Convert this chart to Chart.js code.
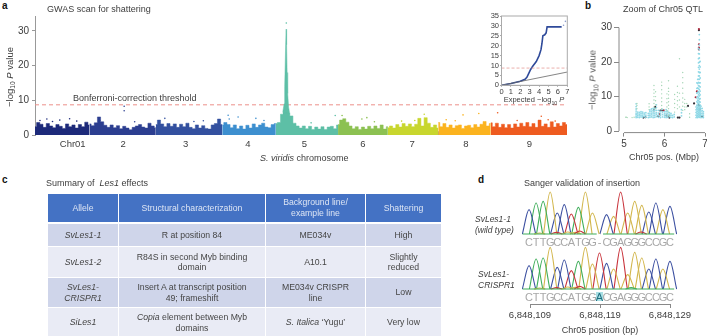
<!DOCTYPE html>
<html>
<head>
<meta charset="utf-8">
<title>Les1 figure</title>
<script src="https://cdn.jsdelivr.net/npm/chart.js@4"></script>
<style>
    html, body { margin: 0; padding: 0; background: #fff; }
    body { position: relative; width: 707px; height: 336px; overflow: hidden; font-family: "Liberation Sans", Arial, sans-serif; color: #3d3d3d; }
    canvas { position: absolute; }
    .t { position: absolute; white-space: nowrap; font-size: 9px; line-height: 11px; }
    .panel { font-weight: bold; font-size: 10px; color: #111; }
    .rot { transform: translate(-50%, -50%) rotate(-90deg); }
    .mid { transform: translateX(-50%); }
    sub { font-size: 70%; line-height: 0; }
    #les1Table { position: absolute; left: 47px; top: 193px; width: 394px; table-layout: fixed; border-collapse: collapse; font-size: 8.7px; line-height: 10.5px; text-align: center; color: #454545; }
    #les1Table td, #les1Table th { border: 1px solid #fff; padding: 0 6px; font-weight: normal; }
    #les1Table th { background: #4472c4; color: #dde5f4; border-bottom-width: 2px; }
    #les1Table tr.odd td { background: #cfd5ea; }
    #les1Table tr.even td { background: #e9ebf5; }
    #insertMark { position: absolute; left: 596px; top: 292px; width: 7px; height: 9px; background: #a9dfe4; }
</style>
</head>
<body>
<div class="t panel" style="left:2px;top:0">a</div>
<div class="t panel" style="left:585px;top:0">b</div>
<div class="t panel" style="left:2px;top:174px">c</div>
<div class="t panel" style="left:478px;top:174px">d</div>

<canvas id="manhattanChart" width="572" height="170" style="left:0;top:0"></canvas>
<div class="t" style="left:47px;top:4px">GWAS scan for shattering</div>
<div class="t rot" style="left:9px;top:77px;font-size:9.5px">&minus;log<sub>10</sub> <i>P</i> value</div>
<div class="t" style="left:73px;top:93px">Bonferroni-correction threshold</div>
<div class="t" style="left:260px;top:153px"><i>S. viridis</i> chromosome</div>

<canvas id="qqChart" width="92" height="97" style="left:485px;top:8px"></canvas>
<div class="t mid" style="left:534px;top:94px;font-size:7.5px">Expected &minus;log<sub>10</sub> <i>P</i></div>

<canvas id="zoomChart" width="125" height="170" style="left:590px;top:0"></canvas>
<div class="t" style="left:623px;top:4px">Zoom of Chr05 QTL</div>
<div class="t rot" style="left:592px;top:80px;font-size:9.5px;color:#555">&minus;log<sub>10</sub> <i>P</i> value</div>
<div class="t mid" style="left:664px;top:152px">Chr05 pos. (Mbp)</div>

<div class="t" style="left:46px;top:178px">Summary of &nbsp;<i>Les1</i> effects</div>
<table id="les1Table"></table>

<div class="t" style="left:524px;top:178px">Sanger validation of insertion</div>
<div class="t" style="left:475px;top:214px;font-size:8.5px"><i>SvLes1-1<br>(wild type)</i></div>
<div class="t" style="left:478px;top:269px;font-size:8.5px"><i>SvLes1-<br>CRISPR1</i></div>
<div id="insertMark"></div>
<canvas id="traceTop" width="155" height="60" style="left:522px;top:190px"></canvas>
<canvas id="traceBottom" width="155" height="60" style="left:522px;top:245px"></canvas>
<canvas id="positionAxis" width="200" height="30" style="left:500px;top:303px"></canvas>
<div class="t mid" style="left:600px;top:325px">Chr05 position (bp)</div>

<script>
// Panel a: chromosomes, Mb boundaries and the envelope of -log10 P
const chrNames = ['Chr01', '2', '3', '4', '5', '6', '7', '8', '9'];
const chrEdges = [0, 40.5, 89.7, 139, 178.8, 225, 262, 299.4, 338.4, 395];
const chrColors = ['#1d2a7a', '#2c3e90', '#33509f', '#3d8fcf', '#5dbfa6', '#8cc152', '#c8d62e', '#fbb31f', '#ee5b20'];
const chrLabelPos = [28, 65.5, 111.8, 158, 200, 243.5, 280, 320, 367];
const chrTickMarks = [50, 100, 150, 200, 250, 300, 350];
const chr1Top = [2.4, 3.6, 3.1, 2.2, 3.3, 2.6, 2.1, 3.0, 2.5, 1.9, 3.2, 2.4, 2.9, 2.0, 3.0, 2.4, 3.7, 2.9];
const chr2Top = [3.2, 2.7, 3.5, 5.2, 3.8, 2.8, 2.2, 2.9, 2.1, 2.7, 1.8, 2.5, 2.0, 1.5, 2.2, 2.6, 3.0, 2.3, 2.0, 3.4, 2.6, 2.1];
const chr3Top = [3.0, 4.3, 3.2, 2.4, 3.3, 2.5, 3.2, 2.2, 3.1, 2.4, 3.4, 2.2, 1.8, 2.9, 2.0, 2.7, 1.9, 1.7, 2.9, 3.3, 4.6, 3.0];
const chr4Top = [2.9, 3.6, 3.0, 2.1, 2.9, 1.8, 2.6, 1.7, 2.8, 2.0, 3.2, 2.2, 2.9, 3.4, 2.3, 2.1, 3.0, 3.3];
const chr5Top = [3.3, 3.6, 6.0, 6.3, 6.4, 5.5, 3.4, 2.6, 2.0, 2.6, 1.8, 2.5, 1.6, 2.3, 1.7, 2.4, 1.6, 2.3, 2.5, 1.8, 2.9];
const chr6Top = [3.0, 4.3, 4.7, 3.7, 2.6, 1.8, 2.4, 1.6, 2.3, 1.7, 2.5, 1.8, 2.6, 1.9, 2.9, 1.7, 2.4];
const chr7Top = [2.1, 2.6, 2.0, 3.0, 2.3, 3.3, 2.5, 3.2, 2.4, 3.1, 4.8, 2.6, 5.0, 3.4, 2.2, 2.9, 2.0];
const chr8Top = [3.6, 2.4, 3.3, 2.2, 2.9, 2.0, 2.7, 2.9, 1.9, 2.6, 2.8, 2.1, 3.0, 2.3, 3.1, 3.9, 2.6, 3.3];
const chr9Top = [3.5, 2.4, 3.4, 2.2, 3.1, 2.1, 3.0, 2.0, 3.2, 2.3, 3.4, 2.5, 3.6, 2.4, 3.3, 2.2, 4.3, 2.5, 3.2, 2.2, 3.8, 2.3, 3.3, 2.6, 3.6, 3.0];
const chrTops = [chr1Top, chr2Top, chr3Top, chr4Top, chr5Top, chr6Top, chr7Top, chr8Top, chr9Top];
const spikeX = [183.9, 185.0, 185.4, 186.1, 186.5, 186.8, 187.2, 187.6, 188.3, 189.0];
const spikeY = [6.5, 9, 14, 26, 30.5, 26, 18, 12, 8, 6.5];
const chrOutliers = [
    [[3.7, 4.2], [8.8, 4.6], [18.4, 4.3], [25.7, 4.7], [13, 3.9], [31, 4.0]],
    [[66.2, 7], [66.2, 8.3], [48, 4.2], [74, 3.8]],
    [[96.4, 4.8], [118, 3.9], [125, 4.1]],
    [[143.4, 5.7], [144.2, 4.6], [150.8, 5.2], [164, 4.8], [170, 4.2]],
    [[186.6, 32.3], [222.9, 5.6], [205, 3.5]],
    [[228, 5.6], [246.4, 5], [242.7, 4.6], [252, 3.8]],
    [[289, 6], [272.2, 4], [282, 4.2]],
    [[317.8, 5.8], [329.5, 6.2], [305.3, 4.4], [312, 4.1]],
    [[343.5, 6.4], [375.9, 5.4], [381, 4.4], [386.2, 4], [358, 4.2]]
];
const bonferroni = 8.7;

// Inset: QQ curve
const qqExpected = [0, 1, 2, 2.5, 2.7, 2.9, 3.1, 3.3, 3.7, 4.0, 4.2, 4.3, 4.4, 4.6, 4.75, 4.85, 5.5, 6.4];
const qqObserved = [0, 0.9, 2, 3, 4, 6, 8, 9.5, 12, 15, 18, 21, 25, 25.5, 26.5, 29.5, 29.5, 29.5];
const qqTail = [[6.6, 30.3], [6.8, 32.3]];
const qqDiagonal = [[0, 0], [7, 6.7]];

// Panel b: points by column, [position, [values]]
const zoomCyan = [
    [5.3, [3.9, 4.3, 4.8, 5.2, 5.8, 6.4, 7.1, 7.9]], [5.34, [4, 4.5, 5, 5.5]], [5.38, [3.9, 4.4, 4.9, 5.4]], [5.42, [4.1, 4.6, 5.1, 5.6]],
    [5.46, [4, 4.4, 5, 5.5]], [5.5, [4.2, 4.7, 5.2]], [5.54, [4, 4.6, 5.3]], [5.6, [3.9, 4.5, 5.1]], [5.64, [4, 4.5, 5, 5.6, 6.1]],
    [5.68, [4.1, 4.7, 5.2, 5.8, 6.4]], [5.72, [3.9, 4.4, 5, 5.5, 6, 6.6]], [5.76, [4, 4.6, 5.2, 5.9, 6.5]], [5.8, [4.2, 4.8, 5.3, 6, 6.8, 7.6]],
    [5.85, [4, 4.6, 5.2, 6]], [5.9, [3.9, 4.5, 5.1, 5.7]], [5.95, [4.1, 4.8, 5.5, 6.3]], [6, [4, 4.5, 5, 5.6]], [6.04, [3.9, 4.4, 5, 5.6, 6.2]],
    [6.08, [4, 4.6, 5.2, 5.8]], [6.12, [4.2, 4.7, 5.3]], [6.16, [4, 4.6, 5.1]], [6.2, [3.9, 4.5]], [6.24, [4.1, 4.8]], [6.42, [4.4, 5.3, 6.2]],
    [6.78, [3.9, 4.6, 5.4, 6.2, 7]], [6.8, [4.2, 5, 5.8, 6.6, 7.5, 8.5, 9.6, 11, 12.4, 14]],
    [6.82, [3.9, 4.5, 5.1, 5.7, 6.3, 6.9, 7.5, 8.2, 9, 10, 11.2, 12.5, 13.8, 15]],
    [6.84, [4.2, 4.8, 5.4, 6, 6.6, 7.2, 8, 8.8, 9.6, 10.5, 11.4, 12.3, 13.2, 14.1, 15, 16, 17.2, 18.5, 19.8, 21, 22.5, 24]],
    [6.86, [4, 4.6, 5.2, 5.8, 6.4, 7, 7.7, 8.5, 9.3, 10.2, 11, 12, 13, 14, 15, 16, 17, 18, 19, 20, 21.2, 22.4, 23.6, 25, 26.5, 28]],
    [6.88, [4.3, 4.9, 5.5, 6.1, 6.8, 7.5, 8.4, 9.4, 10.5, 11.6, 12.8, 14, 15.4, 17, 18.6, 20.2]],
    [6.9, [3.9, 4.5, 5.1, 5.8, 6.5, 7.2]], [6.93, [4, 4.6, 5.2, 5.9, 6.6]], [6.96, [3.9, 4.4, 5, 5.6]]
];
const zoomGreen = [
    [5.05, [4, 4]], [5.08, [3.9]], [5.2, [3.9]], [5.25, [4]],
    [5.32, [6.5, 7.4, 8]], [5.62, [6.2, 7, 7.9]], [5.74, [7, 8, 9, 10, 11, 12, 13.2]], [5.78, [6.5, 7.6, 8.8, 10, 11.4]],
    [5.93, [6.5, 7.4, 8.5, 9.6, 10.8, 12, 13.2, 14.2]], [6.06, [6, 7, 8.2, 9.4, 10.8]], [6.1, [4.5, 5.5, 6.5, 7.5, 8.5, 9.5, 10.5, 11.5, 12.4, 14.6]],
    [6.25, [5.5, 6.8, 8, 9.2, 10.6]], [6.32, [6.5, 7.6, 8.8, 10, 11.2, 13]], [6.37, [7, 9, 11, 21]], [6.45, [6, 7.2, 8.4, 9.6, 11, 12.4, 14, 15.5, 17]],
    [6.5, [6.2, 7, 8, 9.2]], [6.55, [7, 8]], [6.62, [4, 5]]
];
const zoomDark = [[5.48, 3.9], [5.53, 4], [5.77, 7], [5.74, 6], [5.9, 5.9], [5.95, 6], [5.85, 4.3], [6.05, 4.5], [6.1, 4.4], [6.12, 3.9], [6.33, 3.9], [6.37, 3.9], [6.58, 7.3], [6.73, 8], [6.85, 7.5], [6.87, 6.3], [6.93, 4.2], [6.85, 29.3]];
const zoomRed = [[6.85, 29.6], [6.85, 25.2], [6.85, 24.2], [6.85, 23.7], [6.77, 9.8], [6.8, 11.5], [5.98, 6], [5.88, 5]];

// Panel c
const tableHeader = ['Allele', 'Structural characterization', 'Background line/<br>example line', 'Shattering'];
const tableRows = [
    ['<i>SvLes1-1</i>', 'R at position 84', 'ME034v', 'High'],
    ['<i>SvLes1-2</i>', 'R84S in second Myb binding<br>domain', 'A10.1', 'Slightly<br>reduced'],
    ['<i>SvLes1-<br>CRISPR1</i>', 'Insert A at transcript position<br>49; frameshift', 'ME034v CRISPR<br>line', 'Low'],
    ['<i>SiLes1</i>', '<i>Copia</i> element between Myb<br>domains', '<i>S. Italica</i> ‘Yugu’', 'Very low']
];
const tableWidths = [71, 147, 100, 76];
const tableHeights = [29, 24, 31, 30, 30];

// Panel d: called bases and the peak height of each one
const wildBases = 'CTTGCCATGG-CGAGGGCCGC';
const wildPeaks = [73, 93, 98, 126, 63, 88, 60, 80, 126, 63, 0, 58, 53, 126, 63, 98, 86, 66, 93, 73, 83];
const crisprBases = 'CTTGCCATGGACGAGGGCCGC';
const crisprPeaks = [70, 90, 93, 125, 65, 87, 55, 83, 125, 75, 108, 77, 60, 125, 43, 110, 93, 60, 90, 60, 83];
const wildNoise = [['A', 3.9, 5], ['G', 5.5, 6], ['A', 7.2, 9], ['G', 6.6, 5], ['A', 15.9, 6], ['G', 1.5, 3]];
const crisprNoise = [['A', 3.9, 4], ['G', 5.5, 6], ['A', 7.2, 8], ['G', 6.6, 5], ['T', 14.5, 4], ['G', 1.5, 3]];
const baseColors = { A: '#c8323a', C: '#3b4fa0', G: '#d2b64c', T: '#3fae5a' };
const positionTicks = [6848109, 6848119, 6848129];

Chart.defaults.animation = false;
Chart.defaults.responsive = false;
Chart.defaults.font.family = '"Liberation Sans", Arial, sans-serif';
Chart.defaults.color = '#3d3d3d';
Chart.defaults.plugins.legend.display = false;
Chart.defaults.plugins.tooltip.enabled = false;

const toPoints = pairs => pairs.map(p => ({ x: p[0], y: p[1] }));
const columnsToPoints = cols => cols.flatMap(c => c[1].map(y => ({ x: c[0], y: y })));

document.addEventListener('DOMContentLoaded', function() {
    drawManhattan();
    drawQQ();
    drawZoom();
    buildTable();
    drawTrace('traceTop', wildBases, wildPeaks, wildNoise, true);
    drawTrace('traceBottom', crisprBases, crisprPeaks, crisprNoise, false);
    drawPositionAxis();
});

function drawManhattan() {
    const datasets = [];
    chrTops.forEach((tops, c) => {
        const start = chrEdges[c], end = chrEdges[c + 1];
        datasets.push({
            data: tops.map((y, i) => ({ x: start + (end - start) * i / (tops.length - 1), y: y })),
            showLine: true, fill: 'origin', backgroundColor: chrColors[c], borderColor: chrColors[c],
            borderWidth: 0.5, pointRadius: 0, stepped: 'middle'
        });
        datasets.push({ data: toPoints(chrOutliers[c]), backgroundColor: chrColors[c], borderWidth: 0, pointRadius: 0.8 });
    });
    datasets.push({
        data: spikeX.map((x, i) => ({ x: x, y: spikeY[i] })),
        showLine: true, fill: 'origin', backgroundColor: chrColors[4], borderColor: chrColors[4],
        borderWidth: 0.5, pointRadius: 0, tension: 0
    });
    datasets.push({
        data: [{ x: chrEdges[0], y: bonferroni }, { x: chrEdges[9], y: bonferroni }],
        showLine: true, borderColor: '#ec8f8a', borderWidth: 1, borderDash: [4, 3], pointRadius: 0
    });
    datasets.push({
        data: chrTickMarks.map(x => ({ x: x, y: 0.5 })),
        pointStyle: 'line', rotation: 90, pointRadius: 2, borderColor: '#222', borderWidth: 1
    });
    new Chart(document.getElementById('manhattanChart'), {
        type: 'scatter',
        data: { datasets: datasets },
        options: {
            layout: { padding: { top: 16 } },
            scales: {
                x: {
                    type: 'linear', min: 0, max: 395,
                    grid: { display: false, drawTicks: false }, border: { display: false },
                    afterBuildTicks: s => { s.ticks = chrLabelPos.map(v => ({ value: v })); },
                    afterFit: s => { s.height = 35; },
                    ticks: {
                        autoSkip: false, maxRotation: 0, padding: 4, font: { size: 9.5 },
                        callback: v => chrNames[chrLabelPos.indexOf(v)]
                    }
                },
                y: {
                    min: 0, max: 34.3,
                    afterFit: s => { s.width = 35; },
                    grid: { drawOnChartArea: false, tickLength: 3, color: '#999' },
                    border: { color: '#999' },
                    ticks: { stepSize: 10, includeBounds: false, padding: 3, font: { size: 10 } }
                }
            }
        }
    });
}

function drawQQ() {
    new Chart(document.getElementById('qqChart'), {
        type: 'scatter',
        data: {
            datasets: [
                { data: [{ x: 0, y: bonferroni }, { x: 7, y: bonferroni }], showLine: true, borderColor: '#e49a96', borderWidth: 0.8, borderDash: [3, 2], pointRadius: 0 },
                { data: toPoints(qqDiagonal), showLine: true, borderColor: '#666', borderWidth: 0.8, pointRadius: 0 },
                { data: qqExpected.map((x, i) => ({ x: x, y: qqObserved[i] })), showLine: true, borderColor: '#2f4a9a', borderWidth: 1.6, pointRadius: 0 },
                { data: toPoints(qqTail), backgroundColor: '#8a9ac8', borderWidth: 0, pointRadius: 0.8 }
            ]
        },
        options: {
            layout: { padding: { top: 8, right: 9.7 } },
            scales: {
                x: {
                    min: 0, max: 7,
                    afterFit: s => { s.height = 19.7; },
                    grid: { drawOnChartArea: false, tickLength: 1.5, color: '#aaa' },
                    border: { color: '#aaa' },
                    ticks: { stepSize: 1, autoSkip: false, padding: 1, maxRotation: 0, font: { size: 7.5 } }
                },
                y: {
                    min: 0, max: 35,
                    afterFit: s => { s.width = 16.5; },
                    grid: { drawOnChartArea: false, tickLength: 1.5, color: '#aaa' },
                    border: { color: '#aaa' },
                    ticks: { stepSize: 5, autoSkip: false, padding: 1, font: { size: 7.5 } }
                }
            }
        },
        plugins: [{
            id: 'boxEdges',
            afterDraw(chart) {
                const a = chart.chartArea, ctx = chart.ctx;
                ctx.save();
                ctx.strokeStyle = '#aaa';
                ctx.lineWidth = 1;
                ctx.strokeRect(a.left, a.top, a.right - a.left, a.bottom - a.top);
                ctx.restore();
            }
        }]
    });
}

function drawZoom() {
    new Chart(document.getElementById('zoomChart'), {
        type: 'scatter',
        data: {
            datasets: [
                { data: columnsToPoints(zoomGreen), backgroundColor: '#a5d6b6', borderWidth: 0, pointRadius: 0.7 },
                { data: columnsToPoints(zoomCyan), backgroundColor: '#8fd8e6', borderWidth: 0, pointRadius: 0.9 },
                { data: toPoints(zoomRed), backgroundColor: '#a8283c', borderWidth: 0, pointRadius: 1.1 },
                { data: toPoints(zoomDark), backgroundColor: '#333038', borderWidth: 0, pointRadius: 1.1 }
            ]
        },
        options: {
            layout: { padding: { top: 26, right: 10 } },
            scales: {
                x: {
                    min: 4.877, max: 7,
                    afterBuildTicks: s => { s.ticks = [5, 6, 7].map(v => ({ value: v })); },
                    afterFit: s => { s.height = 37.4; },
                    grid: { drawOnChartArea: false, tickLength: 4, color: '#888' },
                    border: { display: false },
                    ticks: { padding: 2, maxRotation: 0, font: { size: 10 } }
                },
                y: {
                    min: -0.46, max: 30.5,
                    afterBuildTicks: s => { s.ticks = [0, 10, 20, 30].map(v => ({ value: v })); },
                    afterFit: s => { s.width = 29; },
                    grid: { drawOnChartArea: false, tickLength: 5, color: '#888' },
                    border: { display: false },
                    ticks: { padding: 2, font: { size: 10 } }
                }
            }
        },
        plugins: [{
            // R style axes, lines only run between the outer ticks
            id: 'rangeAxes',
            afterDraw(chart) {
                const x = chart.scales.x, y = chart.scales.y, ctx = chart.ctx;
                ctx.save();
                ctx.strokeStyle = '#888';
                ctx.lineWidth = 1;
                ctx.beginPath();
                ctx.moveTo(x.getPixelForValue(5), x.top);
                ctx.lineTo(x.getPixelForValue(7), x.top);
                ctx.moveTo(y.right, y.getPixelForValue(0));
                ctx.lineTo(y.right, y.getPixelForValue(30));
                ctx.stroke();
                ctx.restore();
            }
        }]
    });
}

function buildTable() {
    const table = document.getElementById('les1Table');
    let html = '<colgroup>' + tableWidths.map(w => `<col style="width:${w}px">`).join('') + '</colgroup>';
    html += `<tr style="height:${tableHeights[0]}px">` + tableHeader.map(h => `<th>${h}</th>`).join('') + '</tr>';
    tableRows.forEach((row, i) => {
        html += `<tr class="${i % 2 ? 'even' : 'odd'}" style="height:${tableHeights[i + 1]}px">` + row.map(c => `<td>${c}</td>`).join('') + '</tr>';
    });
    table.innerHTML = html;
}

function peakDataset(base, center, height, width) {
    return {
        data: [{ x: center - width, y: 0 }, { x: center, y: height }, { x: center + width, y: 0 }],
        showLine: true, borderColor: baseColors[base], borderWidth: 1.1, pointRadius: 0,
        cubicInterpolationMode: 'monotone'
    };
}

function drawTrace(id, bases, peaks, noise, hasGap) {
    const letters = bases.split('');
    const datasets = [];
    // green baseline, broken at the gap of the wild type read
    const baseline = hasGap
        ? [{ x: -0.9, y: 0 }, { x: 9.6, y: 0 }, { x: 9.6, y: null }, { x: 10.5, y: null }, { x: 10.5, y: 0 }, { x: 20.6, y: 0 }]
        : [{ x: -0.9, y: 0 }, { x: 20.6, y: 0 }];
    datasets.push({ data: baseline, showLine: true, borderColor: '#3fae5a', borderWidth: 1.2, pointRadius: 0, spanGaps: false });
    noise.forEach(n => datasets.push(peakDataset(n[0], n[1], n[2], 0.8)));
    letters.forEach((b, i) => {
        if (b !== '-') datasets.push(peakDataset(b, i, peaks[i], 0.95));
    });
    new Chart(document.getElementById(id), {
        type: 'scatter',
        data: { datasets: datasets },
        options: {
            clip: false,
            scales: {
                x: {
                    min: -1, max: 21,
                    grid: { display: false, drawTicks: false }, border: { display: false },
                    afterBuildTicks: s => { s.ticks = letters.map((b, i) => ({ value: i })); },
                    afterFit: s => { s.height = 16; },
                    ticks: {
                        autoSkip: false, maxRotation: 0, padding: 2,
                        font: { size: 11 },
                        color: c => (!hasGap && c.tick.value === 10) ? '#1d6f80' : '#a8a8a8',
                        callback: v => letters[v]
                    }
                },
                y: { display: false, min: 0, max: 132 }
            }
        }
    });
}

function drawPositionAxis() {
    new Chart(document.getElementById('positionAxis'), {
        type: 'scatter',
        data: { datasets: [{ data: [] }] },
        options: {
            layout: { padding: { left: 30, right: 30, top: 0 } },
            scales: {
                x: {
                    min: positionTicks[0], max: positionTicks[2],
                    afterBuildTicks: s => { s.ticks = positionTicks.map(v => ({ value: v })); },
                    afterFit: s => { s.height = 29; },
                    grid: { drawOnChartArea: false, tickLength: 4, color: '#888' },
                    border: { color: '#888' },
                    ticks: { padding: 2, maxRotation: 0, font: { size: 9.5 }, callback: v => v.toLocaleString('en-US') }
                },
                y: { display: false }
            }
        }
    });
}
</script>
</body>
</html>
